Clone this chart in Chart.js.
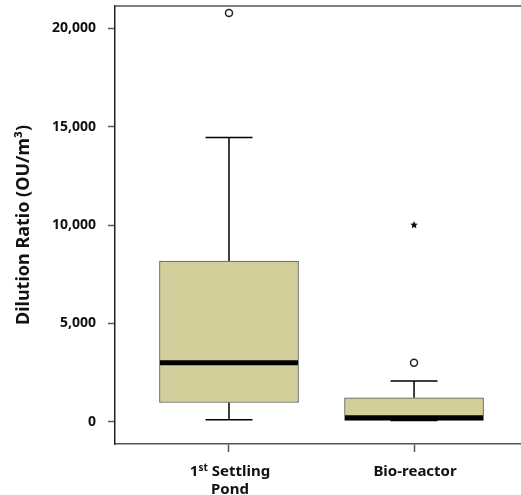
<!DOCTYPE html>
<html>
<head>
<meta charset="utf-8">
<script src="https://cdn.jsdelivr.net/npm/chart.js@4"></script>
<style>
  html, body { margin: 0; padding: 0; background: #fff; }
  #wrap { width: 521px; height: 495px; }
</style>
</head>
<body>
<div id="wrap"><canvas id="boxChart" width="521" height="495"></canvas></div>
<script>
// categories and the box plot summary
const categories = ['1st Settling\nPond', 'Bio-reactor'];
const positions = [1, 2];
const q1Values = [980, 70];
const medianValues = [3000, 200];
const q3Values = [8170, 1220];
const whiskerLow = [100, 70];
const whiskerHigh = [14450, 2070];
const circleOutliers = [[20780], [3000]];
const starOutliers = [[], [10000]];
const yTicks = [0, 5000, 10000, 15000, 20000];

const FONT = '"Noto Sans", "DejaVu Sans", sans-serif';
const BOX_FILL = '#D3CE9A';
const AXIS_COLOR = '#555555';

function starImage(size) {
    const c = document.createElement('canvas');
    c.width = size;
    c.height = size;
    const g = c.getContext('2d');
    const r = size / 2, ir = r * 0.45;
    g.beginPath();
    for (let i = 0; i < 10; i++) {
        const rad = (i % 2 === 0 ? r : ir);
        const a = -Math.PI / 2 + i * Math.PI / 5;
        const px = r + Math.cos(a) * rad, py = r + Math.sin(a) * rad;
        if (i === 0) g.moveTo(px, py); else g.lineTo(px, py);
    }
    g.closePath();
    g.fillStyle = '#000';
    g.fill();
    return c;
}

const boxes = positions.map((x, i) => ({x: x, y: [q1Values[i], q3Values[i]]}));
const medians = positions.map((x, i) => ({x: x, y: medianValues[i]}));
const caps = [];
const stems = [];
positions.forEach((x, i) => {
    caps.push({x: x, y: whiskerLow[i]}, {x: x, y: whiskerHigh[i]});
    stems.push({x: x, y: q3Values[i]}, {x: x, y: whiskerHigh[i]}, {x: x, y: null});
    stems.push({x: x, y: q1Values[i]}, {x: x, y: whiskerLow[i]}, {x: x, y: null});
});
const circles = [];
const stars = [];
positions.forEach((x, i) => {
    circleOutliers[i].forEach(v => circles.push({x: x, y: v}));
    starOutliers[i].forEach(v => stars.push({x: x, y: v}));
});

// top frame line + category labels with superscript ordinal
const framePlugin = {
    id: 'frameAndLabels',
    afterDraw(chart) {
        const ctx = chart.ctx;
        const area = chart.chartArea;
        const scale = chart.scales.x;
        ctx.save();
        ctx.strokeStyle = AXIS_COLOR;
        ctx.lineWidth = 1.5;
        ctx.beginPath();
        ctx.moveTo(area.left, area.top);
        ctx.lineTo(area.right, area.top);
        ctx.stroke();

        const mainFont = 'bold 15px ' + FONT;
        const supFont = 'bold 10px ' + FONT;
        ctx.fillStyle = '#111';
        ctx.textBaseline = 'alphabetic';
        ctx.textAlign = 'left';
        categories.forEach((label, i) => {
            const cx = scale.getPixelForValue(positions[i]) + 1;
            label.split('\n').forEach((line, j) => {
                const y = scale.top + 32 + j * 17.5;
                const m = line.match(/^(\d+)(st|nd|rd|th)(.*)$/);
                if (m) {
                    ctx.font = mainFont;
                    const w1 = ctx.measureText(m[1]).width;
                    const w3 = ctx.measureText(m[3]).width;
                    ctx.font = supFont;
                    const w2 = ctx.measureText(m[2]).width;
                    let x0 = cx - (w1 + w2 + w3) / 2;
                    ctx.font = mainFont;
                    ctx.fillText(m[1], x0, y);
                    ctx.font = supFont;
                    ctx.fillText(m[2], x0 + w1, y - 5);
                    ctx.font = mainFont;
                    ctx.fillText(m[3], x0 + w1 + w2, y);
                } else {
                    ctx.font = mainFont;
                    const w = ctx.measureText(line).width;
                    ctx.fillText(line, cx - w / 2, y);
                }
            });
        });
        ctx.restore();
    }
};

const chart = new Chart(document.getElementById('boxChart'), {
    type: 'bar',
    data: {
        datasets: [
            {
                type: 'bar',
                data: boxes,
                xAxisID: 'x',
                yAxisID: 'y',
                backgroundColor: BOX_FILL,
                borderColor: '#555',
                borderWidth: 1,
                borderSkipped: false,
                barThickness: 139,
                order: 5
            },
            {
                type: 'line',
                data: stems,
                xAxisID: 'x',
                yAxisID: 'y',
                borderColor: '#000',
                borderWidth: 1.5,
                pointRadius: 0,
                spanGaps: false,
                order: 6
            },
            {
                type: 'scatter',
                data: caps,
                xAxisID: 'x',
                yAxisID: 'y',
                pointStyle: 'line',
                pointRadius: 23.5,
                borderColor: '#000',
                borderWidth: 1.5,
                order: 4
            },
            {
                type: 'scatter',
                data: medians,
                xAxisID: 'x',
                yAxisID: 'y',
                pointStyle: 'line',
                pointRadius: 69,
                borderColor: '#000',
                borderWidth: 5,
                order: 3
            },
            {
                type: 'scatter',
                data: circles,
                xAxisID: 'x',
                yAxisID: 'y',
                pointStyle: 'circle',
                pointRadius: 3.5,
                backgroundColor: '#fff',
                borderColor: '#222',
                borderWidth: 1.5,
                order: 2
            },
            {
                type: 'scatter',
                data: stars,
                xAxisID: 'x',
                yAxisID: 'y',
                pointStyle: starImage(8),
                order: 1
            }
        ]
    },
    options: {
        responsive: false,
        animation: false,
        layout: {autoPadding: false, padding: {top: 6, right: 0, bottom: 0, left: 0}},
        plugins: {
            legend: {display: false},
            tooltip: {enabled: false}
        },
        scales: {
            x: {
                type: 'linear',
                position: 'bottom',
                offset: false,
                min: 0.384,
                max: 2.578,
                afterBuildTicks: (scale) => {
                    scale.ticks = positions.map(v => ({value: v}));
                },
                afterFit: (scale) => {
                    scale.height = 51;
                    scale.paddingLeft = 0;
                    scale.paddingRight = 0;
                },
                ticks: {display: false},
                grid: {
                    offset: false,
                    drawOnChartArea: false,
                    drawTicks: true,
                    tickLength: 8,
                    tickWidth: 1.5,
                    color: AXIS_COLOR
                },
                border: {display: true, color: AXIS_COLOR, width: 1.5}
            },
            y: {
                type: 'linear',
                position: 'left',
                min: -1130,
                max: 21140,
                afterBuildTicks: (scale) => {
                    scale.ticks = yTicks.map(v => ({value: v}));
                },
                afterFit: (scale) => {
                    scale.width = 115;
                    scale.paddingTop = 0;
                    scale.paddingBottom = 0;
                },
                ticks: {
                    padding: 12,
                    color: '#111',
                    font: {family: FONT, size: 14, weight: 'bold'},
                    callback: (v) => v.toLocaleString('en-US')
                },
                grid: {
                    drawOnChartArea: false,
                    drawTicks: true,
                    tickLength: 7,
                    tickWidth: 1.5,
                    color: AXIS_COLOR
                },
                border: {display: true, color: '#222', width: 1.5},
                title: {
                    display: true,
                    text: 'Dilution Ratio (OU/m³)',
                    color: '#111',
                    font: {family: FONT, size: 18, weight: 'bold'},
                    padding: {top: 13, bottom: 0}
                }
            }
        }
    },
    plugins: [framePlugin]
});
</script>
</body>
</html>
